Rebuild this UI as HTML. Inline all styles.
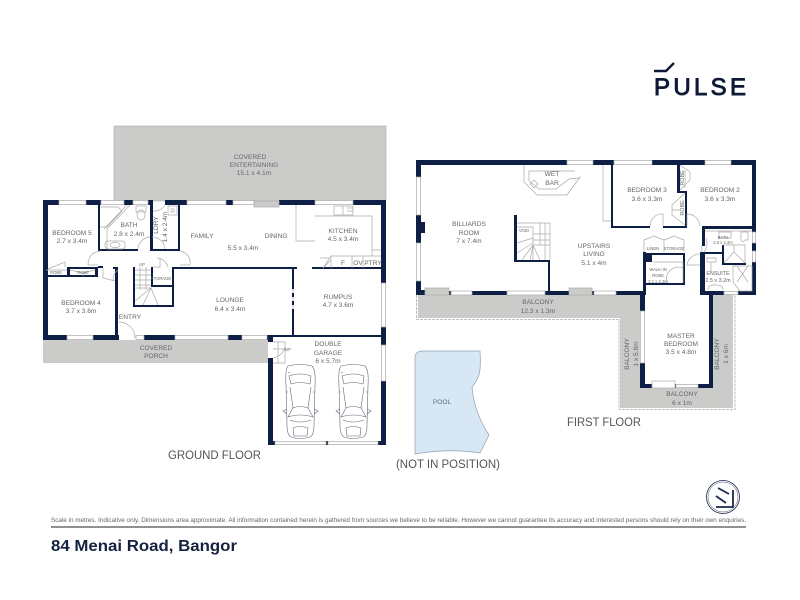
<!DOCTYPE html>
<html><head><meta charset="utf-8"><title>84 Menai Road, Bangor floor plan</title>
<style>
html,body{margin:0;padding:0;background:#fff;width:800px;height:600px;overflow:hidden}
svg{display:block}
text{font-family:"Liberation Sans",sans-serif;fill:#666;font-size:6.6px;text-anchor:middle}
.s{font-size:4.2px}
.m{font-size:5.4px}
.f{font-size:11.5px;fill:#555;text-anchor:start}
.w{fill:#fff;stroke:#aaa;stroke-width:.7}
.wall rect{fill:#0e1f45}
.l{fill:none;stroke:#aaa;stroke-width:.7}
.c{fill:none;stroke:#667;stroke-width:.6}
</style></head><body>
<svg width="800" height="600" viewBox="0 0 800 600" xmlns="http://www.w3.org/2000/svg">
<rect width="800" height="600" fill="#fff"/>

<!-- grey outdoor areas -->
<rect x="114" y="126" width="272" height="75" fill="#cbcbc9" stroke="#aaa" stroke-width=".6"/>
<rect x="43" y="340" width="225" height="23" fill="#cbcbc9"/>
<path d="M418 295H640V388H713V295H733V408H620V318H418Z" fill="#cbcbc9"/>
<path d="M416.500 295V319.500H619V409.500H735V295" fill="none" stroke="#aaa" stroke-width=".8" stroke-dasharray="3 1"/>

<!-- Pool -->
<path d="M415 358Q415 352 421 351H480Q481 368 479 375Q477 381 472 387Q474 412 489 435L480 453Q448 448 415 454Z" fill="#d8e7f4" stroke="#8fa0b0" stroke-width=".7"/>

<!-- GROUND FLOOR walls -->
<g class="wall">
<rect x="43" y="200" width="5" height="140"/>
<rect x="43" y="200" width="16" height="5"/><rect x="86" y="200" width="15" height="5"/><rect x="124" y="200" width="9" height="5"/><rect x="148" y="200" width="5" height="5"/><rect x="165" y="200" width="22" height="5"/><rect x="226" y="200" width="7" height="5"/><rect x="279" y="200" width="36" height="5"/><rect x="353" y="200" width="33" height="5"/>
<rect x="381" y="200" width="5" height="83"/>
<rect x="381" y="327" width="5" height="18"/>
<rect x="381" y="381" width="5" height="64"/>
<rect x="98" y="205" width="2" height="46"/>
<rect x="150" y="205" width="3" height="46"/>
<rect x="178" y="205" width="2" height="46"/>
<rect x="98" y="249" width="40" height="2"/><rect x="150" y="249" width="30" height="2"/>
<rect x="43" y="267" width="3" height="10"/>
<rect x="46" y="275" width="21" height="2"/><rect x="67" y="267" width="3" height="10"/><rect x="70" y="267" width="25" height="2"/><rect x="70" y="275" width="28" height="2"/><rect x="95" y="267" width="3" height="10"/>
<rect x="98" y="266" width="5" height="2"/>
<rect x="113" y="267" width="5" height="2"/>
<rect x="115" y="267" width="3" height="70"/>
<rect x="133" y="267" width="2" height="40"/>
<rect x="133" y="305" width="41" height="2"/>
<rect x="151" y="267" width="2" height="20"/>
<rect x="151" y="285" width="23" height="2"/>
<rect x="172" y="267" width="2" height="40"/>
<rect x="174" y="267" width="123" height="2"/>
<rect x="312" y="267" width="69" height="2"/>
<rect x="292" y="267" width="2" height="68"/>
<rect x="43" y="335" width="24" height="5"/><rect x="93" y="335" width="26" height="5"/>
<rect x="144" y="335" width="31" height="5"/><rect x="228" y="335" width="14" height="5"/><rect x="267" y="335" width="6" height="5"/>
<rect x="268" y="335" width="5" height="7"/>
<rect x="268" y="358" width="5" height="87"/>
<rect x="273" y="335" width="108" height="2"/>
<rect x="268" y="441" width="7" height="4"/><rect x="326" y="441" width="2" height="4"/><rect x="378" y="441" width="8" height="4"/>
</g>
<!-- ground windows -->
<rect class="w" x="59" y="200.500" width="27" height="4"/><rect class="w" x="101" y="200.500" width="23" height="4"/><rect class="w" x="133" y="200.500" width="15" height="4"/><rect class="w" x="187" y="200.500" width="39" height="4"/><rect class="w" x="233" y="200.500" width="21" height="4"/><rect class="w" x="254" y="201" width="25" height="6" style="fill:#cbcbc9"/><rect class="w" x="315" y="200.500" width="38" height="4"/>
<rect class="w" x="381.500" y="283" width="4" height="44"/><rect class="w" x="381.500" y="345" width="4" height="36"/>
<rect class="w" x="67" y="335.500" width="26" height="4"/><rect class="w" x="136" y="335.500" width="8" height="4"/><rect class="w" x="175" y="335.500" width="53" height="4"/><rect class="w" x="242" y="335.500" width="25" height="4"/>
<rect class="w" x="275" y="441.500" width="51" height="3"/><rect class="w" x="328" y="441.500" width="50" height="3"/>
<rect x="292" y="289" width="2" height="4" fill="#ddd"/><rect x="292" y="297" width="2" height="4" fill="#ddd"/><rect x="292" y="305" width="2" height="4" fill="#ddd"/>
<!-- ground fixtures -->
<g class="l">
<path d="M100 207H118L122 211L107 227H100M127 205L104 229M130 205L107 229V249"/>
<rect x="136" y="206" width="10" height="6"/><ellipse cx="141" cy="215" rx="4" ry="5"/>
<rect x="105" y="241" width="20" height="8" rx="3"/><ellipse cx="115" cy="245" rx="5" ry="2.500"/>
<path d="M138 249A13 13 0 0 1 150 237M152 237A13 13 0 0 1 165 249M153 211A12 12 0 0 0 165 205"/>
<rect x="168" y="206" width="9" height="9"/><rect x="171" y="209" width="3" height="3"/>
<path d="M100 251Q88 253 88 265H98M180 251A12 12 0 0 1 190 265M157 258A12 12 0 0 1 168 267M153 267H160V258M48 269L65 262V267M180 265H190"/>
<path d="M70 270L83 273L95 270M83 273V276M46 270H67"/>
<path d="M118 270A12 12 0 0 0 113 281M103 268V278L115 281"/>
<path d="M119 322A16 16 0 0 1 135 338"/>
<path d="M135 270H151M135 275H151M135 280H151M135 285H151M140 267V290M146 267V290M135 301L151 288L158 305M151 288L143 305M151 288H135"/>
<path d="M296 205V241H315M315 216H372V256H331L323 268M331 256V268M352 256V268M363 256V268M372 250H381M372 256H381"/>
<rect x="334" y="206" width="19" height="9"/><path d="M343 206V215M347 208H353M347 211H353"/>
<path d="M273 342H285V363H273M278 342V363M273 358A15 15 0 0 0 285 347M287 349H273"/>
<path d="M320 258L329 258M323 268L331 260"/>
</g>
<!-- Cars -->
<g class="c">
<path d="M288 366Q300 363 312 366Q316 370 315 385L314 425Q314 435 310 437Q300 440 291 437Q287 435 287 425L286 385Q285 370 288 366Z"/>
<path d="M289 376Q300 372 311 376L310 384Q300 381 291 384Z"/>
<path d="M290 387L293 408M311 387L308 408M293 408Q300 405 308 408L313 417Q300 413 288 417Z"/>
<path d="M287 409L283 411L287 414M314 409L318 411L314 414"/>
<path d="M290 420Q300 424 311 420M293 428Q300 425 308 428L307 436H294Z M288 373L290 372M286 392H288M313 392H315"/>
</g>
<g class="c" transform="translate(53 0)">
<path d="M288 366Q300 363 312 366Q316 370 315 385L314 425Q314 435 310 437Q300 440 291 437Q287 435 287 425L286 385Q285 370 288 366Z"/>
<path d="M289 376Q300 372 311 376L310 384Q300 381 291 384Z"/>
<path d="M290 387L293 408M311 387L308 408M293 408Q300 405 308 408L313 417Q300 413 288 417Z"/>
<path d="M287 409L283 411L287 414M314 409L318 411L314 414"/>
<path d="M290 420Q300 424 311 420M293 428Q300 425 308 428L307 436H294Z M288 373L290 372M286 392H288M313 392H315"/>
</g>

<!-- FIRST FLOOR walls -->
<g class="wall">
<rect x="416" y="160" width="151" height="5"/><rect x="593" y="160" width="21" height="5"/><rect x="652" y="160" width="53" height="5"/><rect x="731" y="160" width="25" height="5"/>
<rect x="416" y="160" width="5" height="17"/><rect x="416" y="215" width="5" height="28"/><rect x="421" y="222" width="4" height="11"/><rect x="416" y="281" width="5" height="14"/>
<rect x="416" y="290" width="9" height="5"/><rect x="449" y="291" width="2" height="4"/><rect x="472" y="291" width="35" height="4"/><rect x="545" y="291" width="24" height="4"/><rect x="592" y="291" width="2" height="4"/><rect x="616" y="291" width="29" height="4"/>
<rect x="514" y="215" width="3" height="47"/><rect x="514" y="260" width="36" height="2"/><rect x="548" y="260" width="2" height="32"/>
<rect x="611" y="165" width="2" height="63"/><rect x="611" y="226" width="39" height="2"/><rect x="663" y="226" width="24" height="2"/>
<rect x="677" y="165" width="3" height="28"/><rect x="677" y="191" width="10" height="2"/><rect x="685" y="191" width="2" height="37"/>
<rect x="752" y="160" width="4" height="72"/><rect x="752" y="243" width="4" height="8"/><rect x="752" y="262" width="4" height="33"/>
<rect x="702" y="226" width="54" height="3"/><rect x="702" y="226" width="3" height="20"/>
<rect x="700" y="252" width="5" height="43"/><rect x="700" y="252" width="22" height="2"/>
<rect x="722" y="245" width="2" height="20"/><rect x="722" y="263" width="24" height="2"/>
<rect x="702" y="291" width="22" height="4"/><rect x="738" y="291" width="18" height="4"/>
<rect x="709" y="295" width="4" height="93"/>
<rect x="643" y="252" width="3" height="43"/><rect x="643" y="253" width="42" height="2"/><rect x="643" y="254" width="9" height="8"/><rect x="683" y="253" width="2" height="32"/><rect x="646" y="283" width="39" height="2"/>
<rect x="640" y="293" width="5" height="18"/><rect x="640" y="363" width="5" height="25"/>
<rect x="640" y="384" width="12" height="4"/><rect x="675" y="384" width="1" height="4"/><rect x="698" y="384" width="15" height="4"/>
</g>
<rect class="w" x="567" y="160.500" width="26" height="4"/><rect class="w" x="614" y="160.500" width="38" height="4"/><rect class="w" x="705" y="160.500" width="26" height="4"/>
<rect class="w" x="416.500" y="177" width="4" height="38"/><rect class="w" x="416.500" y="243" width="4" height="38"/>
<rect class="w" x="425" y="288" width="24" height="7" style="fill:#cbcbc9"/><rect class="w" x="451" y="291" width="21" height="4"/><rect class="w" x="507" y="291" width="38" height="4"/><rect class="w" x="569" y="288" width="23" height="7" style="fill:#cbcbc9"/><rect class="w" x="594" y="291" width="22" height="4"/>
<rect class="w" x="752.500" y="232" width="3" height="11"/><rect class="w" x="752.500" y="251" width="3" height="11"/><rect class="w" x="724" y="291.500" width="14" height="3"/>
<rect class="w" x="640.500" y="311" width="4" height="52"/><rect class="w" x="652" y="381" width="23" height="7"/><rect class="w" x="676" y="384.500" width="22" height="3"/>
<!-- first fixtures -->
<g class="l">
<path d="M524 165V182L537 195H567L580 177V178L569 179L556 189H539L529 181V171H575"/>
<path d="M530 184L534 180L538 184L534 188Z"/>
<path d="M603 165V221H611"/>
<path d="M517 223H550V260M517 227H533V260M517 243L533 238M517 253L533 243M540 223V245M545 223V260M533 234H550M533 240H550M533 245H550M533 245L522 260M533 245L530 260M533 245L540 260"/>
<path d="M680 165L690 172V180L680 190M685 170V188M685 193L672 205V215L685 225M672 210H680"/>
<path d="M650 226A12 12 0 0 1 663 214V226M687 226V214A13 13 0 0 1 700 226"/>
<path d="M705 231H752M719 232H731V238H719ZM741 232H748V240Q748 240 745 240A3 6 0 0 1 741 240Z"/>
<path d="M723 245H745V263M724 263L734 252L745 263M734 252V245"/>
<path d="M701 246A13 13 0 0 1 702 252M706 238A14 14 0 0 1 704 252M700 254A13 13 0 0 0 687 265L700 265M707 258H716V262H707ZM711 262V272"/>
<path d="M733 266H752V291H740L733 282ZM737 266L748 282M748 266L737 282"/>
<path d="M708 290Q708 284 716 285Q723 285 723 290"/>
<path d="M644 240L654 236L664 240V252M644 240V252M664 240L674 236L684 240V252M653 262H683V283M667 283A12 12 0 0 1 683 268"/>
</g>

<!-- labels ground -->
<text x="250" y="159">COVERED</text><text x="254" y="167">ENTERTAINING</text><text x="254" y="175">15.1 x 4.1m</text>
<text x="72" y="235">BEDROOM 5</text><text x="72" y="243">2.7 x 3.4m</text>
<text x="129" y="227">BATH</text><text x="129" y="236">2.8 x 2.4m</text>
<text transform="translate(158 225) rotate(-90)">LDRY</text><text transform="translate(167 227) rotate(-90)">1.4 x 2.4m</text>
<text x="202" y="238">FAMILY</text><text x="276" y="238">DINING</text><text x="243" y="250">5.5 x 3.4m</text>
<text x="343" y="233">KITCHEN</text><text x="343" y="241">4.5 x 3.4m</text>
<text x="343" y="265">F</text><text x="358" y="265">OV</text><text x="373" y="265">PTRY</text>
<text x="338" y="299">RUMPUS</text><text x="338" y="307">4.7 x 3.6m</text>
<text x="230" y="302">LOUNGE</text><text x="230" y="311">6.4 x 3.4m</text>
<text x="81" y="305">BEDROOM 4</text><text x="81" y="313">3.7 x 3.6m</text>
<text x="130" y="319">ENTRY</text><text x="156" y="350">COVERED</text><text x="156" y="358">PORCH</text>
<text x="328" y="346">DOUBLE</text><text x="328" y="355">GARAGE</text><text x="328" y="363">6 x 5.7m</text>
<text class="s" x="56" y="274">ROBE</text><text class="s" x="83" y="274">ROBE</text><text class="s" x="142" y="266">UP</text><text class="s" x="161" y="280">STORAGE</text><text class="s" x="288" y="351">UP</text>
<text class="f" x="168" y="459" textLength="93" lengthAdjust="spacingAndGlyphs">GROUND FLOOR</text>
<!-- labels first -->
<text x="469" y="226">BILLIARDS</text><text x="469" y="235">ROOM</text><text x="469" y="243">7 x 7.4m</text>
<text x="552" y="176">WET</text><text x="552" y="185">BAR</text><text class="s" x="524" y="232">VOID</text>
<text x="594" y="248">UPSTAIRS</text><text x="594" y="256">LIVING</text><text x="594" y="265">5.1 x 4m</text>
<text x="538" y="304">BALCONY</text><text x="538" y="313">12.3 x 1.3m</text>
<text x="647" y="192">BEDROOM 3</text><text x="647" y="201">3.6 x 3.3m</text><text x="720" y="192">BEDROOM 2</text><text x="720" y="201">3.6 x 3.3m</text>
<text class="m" transform="translate(684 178) rotate(-90)">ROBE</text><text class="m" transform="translate(684 208) rotate(-90)">ROBE</text>
<text class="s" x="653" y="250">LINEN</text><text class="s" x="674" y="250">STORAGE</text>
<text class="s" x="658" y="271">WALK-IN</text><text class="s" x="658" y="277">ROBE</text><text class="s" x="658" y="283">2.1 x 2.2m</text>
<text class="s" x="723" y="239">BATH</text><text class="s" x="723" y="244">2.6 x 2.2m</text>
<text class="m" x="718" y="275">ENSUITE</text><text class="m" x="718" y="282">2.5 x 3.2m</text>
<text x="681" y="338">MASTER</text><text x="681" y="346">BEDROOM</text><text x="681" y="354">3.5 x 4.8m</text>
<text transform="translate(629 354) rotate(-90)">BALCONY</text><text transform="translate(638 354) rotate(-90)">1 x 5.8m</text>
<text transform="translate(719 354) rotate(-90)">BALCONY</text><text transform="translate(728 354) rotate(-90)">1 x 6m</text>
<text x="682" y="396">BALCONY</text><text x="682" y="405">6 x 1m</text>
<text x="442" y="404" style="fill:#5a6c80">POOL</text>
<text class="f" x="567" y="426" textLength="74" lengthAdjust="spacingAndGlyphs">FIRST FLOOR</text>
<text class="f" x="396" y="468" textLength="104" lengthAdjust="spacingAndGlyphs">(NOT IN POSITION)</text>

<!-- Logo -->
<path d="M654 71H666L674 63" fill="none" stroke="#0e1a36" stroke-width="2.400"/>
<text x="654" y="95" textLength="92" style="font-size:24px;fill:#0e1a36;text-anchor:start;stroke:#0e1a36;stroke-width:.9">PULSE</text>

<!-- seal -->
<circle cx="723" cy="497" r="16.500" fill="#fff" stroke="#1a2a4d" stroke-width=".8"/>
<circle cx="723" cy="497" r="15" fill="none" stroke="#1a2a4d" stroke-width=".4"/>
<path d="M718 488L729 494M716 496L726 503M733 490V507H716" fill="none" stroke="#1a2a4d" stroke-width="1.800"/>

<!-- footer -->
<text x="51" y="522" textLength="695" lengthAdjust="spacingAndGlyphs" style="font-size:6px;fill:#666;text-anchor:start">Scale in metres. Indicative only. Dimensions area approximate. All information contained herein is gathered from sources we believe to be reliable. However we cannot guarantee its accuracy and interested persons should rely on their own enquiries.</text>
<rect x="51" y="526.500" width="695" height="1" fill="#222"/>
<text x="51" y="551" textLength="186" lengthAdjust="spacingAndGlyphs" style="font-size:15.500px;font-weight:700;fill:#14213f;text-anchor:start">84 Menai Road, Bangor</text>
</svg>
</body></html>
